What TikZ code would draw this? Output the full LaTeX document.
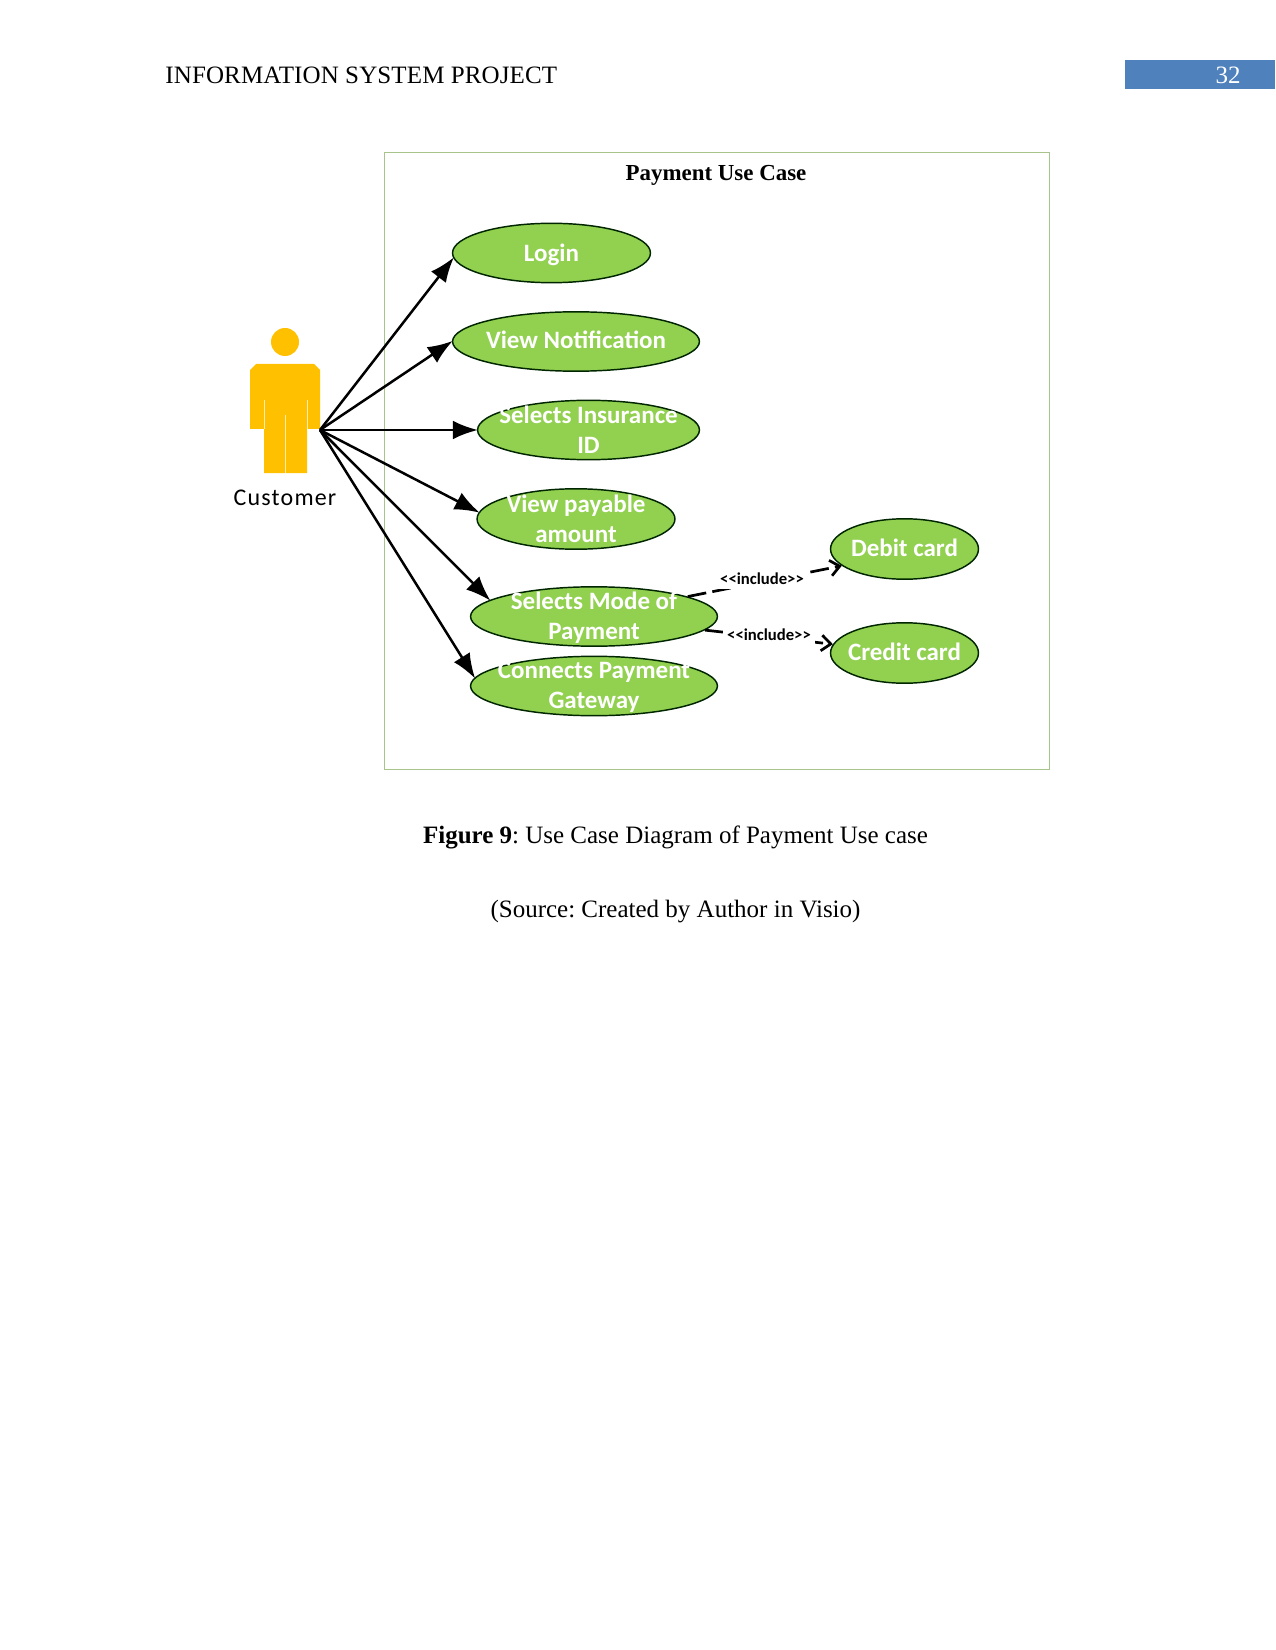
\documentclass[tikz,border=0pt]{standalone}
\usepackage{fontspec}
\setmainfont{Liberation Serif}
\newfontfamily\visiofont{Carlito}
\usetikzlibrary{arrows.meta}
\usetikzlibrary{shapes.geometric}
\definecolor{casegreen}{HTML}{92D050}
\definecolor{actoryellow}{HTML}{FFC000}
\definecolor{framegreen}{HTML}{A9C48A}
\definecolor{pageblue}{HTML}{4F81BD}
\tikzset{
    usecase/.style={ellipse, draw=black!85!green, line width=0.7pt, fill=casegreen, inner sep=0pt},
    casetext/.style={text=white, font=\visiofont\bfseries\fontsize{12}{14.4}\selectfont, align=center, inner sep=0pt},
    includetext/.style={font=\visiofont\bfseries\fontsize{8}{9}\selectfont, fill=white, inner sep=2pt},
    pagetext/.style={font=\fontsize{12}{14.4}\selectfont, inner sep=0pt},
    assoc/.style={-{Latex[length=12pt,width=9pt]}, line width=1.2pt, shorten >=-0.5pt},
    dep/.style={-{Straight Barb[length=4.5pt,width=7.5pt]}, line width=1.3pt, dash pattern=on 9pt off 3pt}
}
\frenchspacing
\begin{document}
\begin{tikzpicture}[x=0.48pt,y=-0.48pt]

                    \useasboundingbox[fill=white] (0,0) rectangle (1275,1650);

                    % page header
                    \node[pagetext, anchor=west] (header) at (165,75) {\addfontfeature{LetterSpace=0.5}INFORMATION SYSTEM PROJECT};
                    \fill[pageblue] (1125,60) rectangle (1275,89);
                    \node[pagetext, text=white] (page_no) at (1228,75) {32};

                    \draw[framegreen, line width=0.4pt] (384,152) rectangle (1049,769);
                    \node[font=\bfseries\fontsize{11}{12}\selectfont, inner sep=0pt] (title) at (716,175) {Payment Use Case};

                    % actor
                    \fill[actoryellow] (285,342) circle (14);
                    \fill[actoryellow] (256,364) -- (314,364) -- (320,370) -- (320,429) -- (307,429)
                        -- (307,473) -- (264,473) -- (264,429) -- (250,429) -- (250,370) -- cycle;
                    \draw[white!70!actoryellow, line width=0.4pt] (285,415) -- (285,473) (264,400) -- (264,429) (307,400) -- (307,429);
                    \node[font=\visiofont\fontsize{11.5}{14}\selectfont, inner sep=0pt] (customer) at (285,498) {\addfontfeature{LetterSpace=5}Customer};
                    \coordinate (hand) at (320,430);

                    % use cases
                    \node[usecase, minimum width=95pt, minimum height=28.5pt] (c_0) at (551.5,253) {};
                    \node[usecase, minimum width=118.5pt, minimum height=28.5pt] (c_1) at (576,341.5) {};
                    \node[usecase, minimum width=106.5pt, minimum height=28.5pt] (c_2) at (588.5,430) {};
                    \node[usecase, minimum width=95pt, minimum height=29pt] (c_3) at (576,519) {};
                    \node[usecase, minimum width=118.5pt, minimum height=28.5pt] (c_5) at (594,686) {};
                    \node[usecase, minimum width=118.5pt, minimum height=28.5pt] (c_4) at (594,616.5) {};
                    \node[usecase, minimum width=71pt, minimum height=29pt] (d_0) at (904.5,549) {};
                    \node[usecase, minimum width=71pt, minimum height=29pt] (d_1) at (904.5,653) {};

                    \path
                    (hand) edge[assoc] (c_0.183)
                    (hand) edge[assoc] (c_1.west)
                    (hand) edge[assoc] (c_2.west)
                    (hand) edge[assoc] (c_3.176)
                    (hand) edge[assoc] (c_4.171)
                    (hand) edge[assoc] (c_5.176);

                    \path
                    (c_4.12) edge[dep] (d_0.195)
                    (c_4.353) edge[dep] (d_1.173);

                    \node[includetext] (inc_0) at (762,579) {<<include>>};
                    \node[includetext] (inc_1) at (769,635) {<<include>>};

                    \node[casetext, yshift=-1pt] (t_0) at (c_0) {Login};
                    \node[casetext, yshift=1pt] (t_1) at (c_1) {View Notification};
                    \node[casetext] (t_2) at (c_2) {Selects Insurance\\ID};
                    \node[casetext] (t_3) at (c_3) {View payable\\amount};
                    \node[casetext, yshift=-0.7pt] (t_4) at (c_4) {Selects Mode of\\Payment};
                    \node[casetext, yshift=-0.5pt] (t_5) at (c_5) {Connects Payment\\Gateway};
                    \node[casetext, yshift=0.5pt] (t_6) at (d_0) {Debit card};
                    \node[casetext, yshift=0.5pt] (t_7) at (d_1) {Credit card};

                    % caption
                    \node[pagetext] (caption) at (675.5,837) {\textbf{Figure 9}: Use Case Diagram of Payment Use case};
                    \node[pagetext] (source) at (675.5,912) {(Source: Created by Author in Visio)};

                \end{tikzpicture}
\end{document}
